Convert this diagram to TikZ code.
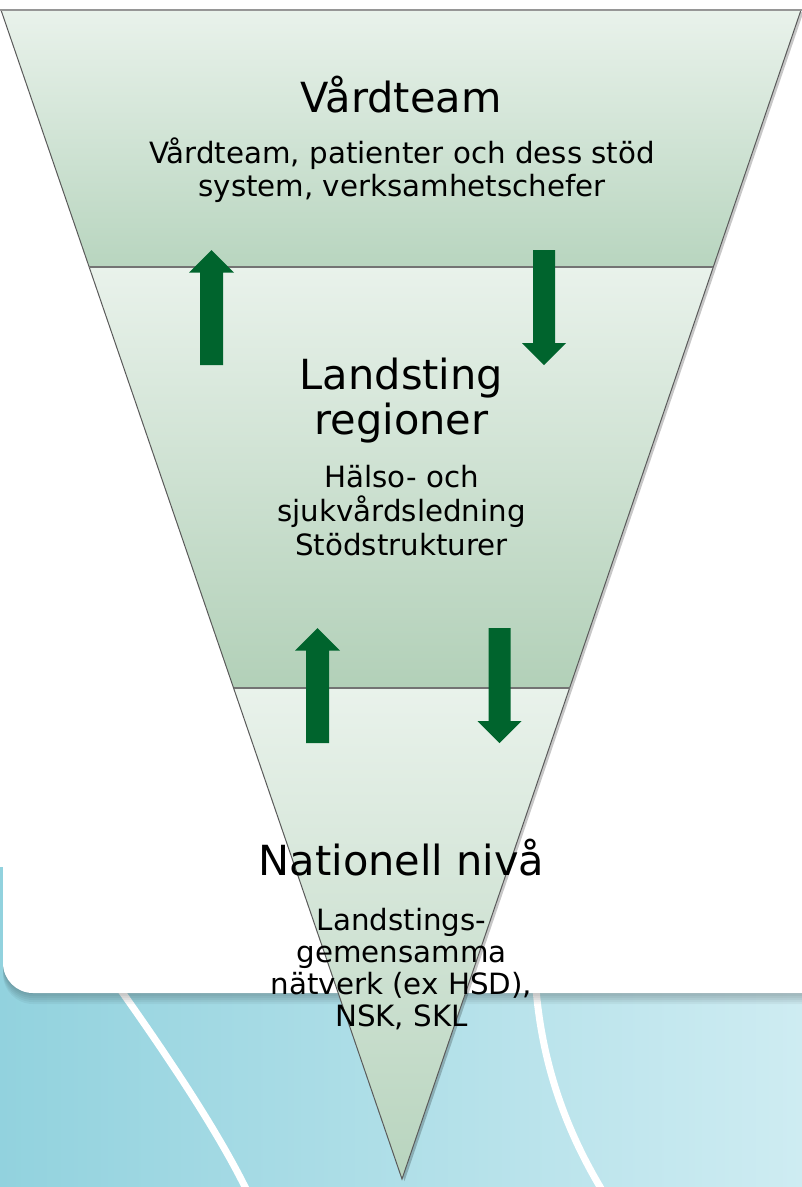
\documentclass[tikz,border=0pt]{standalone}
\usepackage{fontspec}
\setmainfont{DejaVu Sans}
\definecolor{tealA}{RGB}{146,210,222}
\definecolor{tealB}{RGB}{206,236,242}
\definecolor{bandTop}{RGB}{233,242,235}
\definecolor{bandBotA}{RGB}{184,213,191}
\definecolor{bandBotB}{RGB}{178,208,184}
\definecolor{bandBotC}{RGB}{184,212,190}
\definecolor{arrowGreen}{RGB}{0,100,45}
\definecolor{edgeGray}{RGB}{90,90,90}
\definecolor{topGray}{RGB}{150,150,150}
\tikzset{
  titletext/.style={anchor=base, inner sep=0pt, font=\fontsize{41.5}{46}\selectfont},
  subtext/.style={anchor=base, inner sep=0pt, font=\fontsize{29.3}{34}\selectfont},
  arrowfill/.style={fill=arrowGreen, draw=none},
  uparr/.pic={\fill[arrowfill] (0,0) -- (22.5,22.5) -- (11.5,22.5) -- (11.5,115) -- (-11.5,115) -- (-11.5,22.5) -- (-22.5,22.5) -- cycle;},
  downarr/.pic={\fill[arrowfill] (-11,0) -- (11,0) -- (11,93) -- (22,93) -- (0,115) -- (-22,93) -- (-11,93) -- cycle;},
  divider/.style={draw=edgeGray!85, line width=1.6pt},
  curveline/.style={draw=white, line width=7pt},
}
\begin{document}
\begin{tikzpicture}[x=1pt,y=-1pt]
\useasboundingbox (0,0) rectangle (802,1187);
\clip (0,0) rectangle (802,1187);
% page background
\fill[white] (0,0) rectangle (802,1187);
% teal lower background
\shade[left color=tealA, right color=tealB] (0,867) rectangle (802,1187);
% white curves
\draw[curveline] (110,975) .. controls (160,1045) and (218,1130) .. (249,1195);
\draw[curveline] (535,975) .. controls (540,1060) and (565,1130) .. (605,1195);
% card shadow
\foreach \d in {1,3,5,7,9,11}{
  \fill[black, opacity=0.045] (3,-60) [rounded corners=30pt] -- (3,993+\d) -- (900,993+\d) [sharp corners] -- (900,-60) -- cycle;
}
% white card
\fill[white] (3,-60) [rounded corners=30pt] -- (3,993) -- (900,993) [sharp corners] -- (900,-60) -- cycle;
% triangle corner coordinates
\coordinate (TL) at (1,10);
\coordinate (TR) at (801,10);
\coordinate (AP) at (402,1179);
\coordinate (L1) at (89.2,267);
\coordinate (R1) at (713.3,267);
\coordinate (L2) at (233.6,688);
\coordinate (R2) at (569.6,688);
% triangle shadow
\fill[black, opacity=0.22] ([shift={(2.5,2)}]TL) -- ([shift={(2.5,2)}]TR) -- ([shift={(2.5,2)}]AP) -- cycle;
% bands
\shade[top color=bandTop, bottom color=bandBotA] (TL) -- (TR) -- (R1) -- (L1) -- cycle;
\shade[top color=bandTop, bottom color=bandBotB] (L1) -- (R1) -- (R2) -- (L2) -- cycle;
\shade[top color=bandTop, bottom color=bandBotC] (L2) -- (R2) -- (AP) -- cycle;
% outlines
\draw[edgeGray, line width=1pt, line join=miter] (TR) -- (AP) -- (TL);
\draw[topGray, line width=2.2pt] (0,10) -- (802,10);
\draw[divider] (L1) -- (R1);
\draw[divider] (L2) -- (R2);
% arrows
\pic at (211.5,250) {uparr};
\pic at (544,250) {downarr};
\pic at (317.5,628) {uparr};
\pic at (499.5,628) {downarr};
% texts top band
\node[titletext] (t1) at (401,112) {Vårdteam};
\node[subtext] (s1a) at (402,163) {Vårdteam, patienter och dess stöd};
\node[subtext] (s1b) at (402,196) {system, verksamhetschefer};
% middle band
\node[titletext] (t2a) at (401.5,389) {Landsting};
\node[titletext] (t2b) at (401.5,434) {regioner};
\node[subtext] (s2a) at (401.5,487) {Hälso- och};
\node[subtext] (s2b) at (401.5,521) {sjukvårdsledning};
\node[subtext] (s2c) at (401.5,555) {Stödstrukturer};
% bottom band
\node[titletext] (t3) at (401.5,875) {Nationell nivå};
\node[subtext] (s3a) at (401.5,930) {Landstings-};
\node[subtext] (s3b) at (401.5,962) {gemensamma};
\node[subtext] (s3c) at (401.5,994) {nätverk (ex HSD),};
\node[subtext] (s3d) at (401.5,1026) {NSK, SKL};
\end{tikzpicture}
\end{document}
